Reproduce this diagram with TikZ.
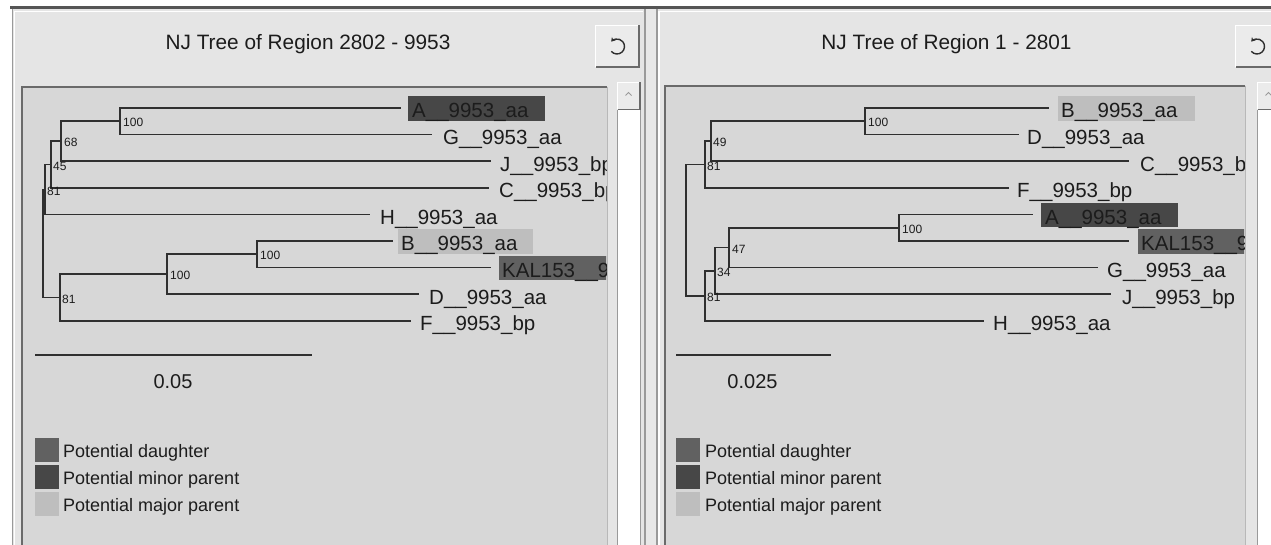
\documentclass[tikz,border=0pt]{standalone}
\usepackage{fontspec}
\setmainfont{Liberation Sans}
\usetikzlibrary{arrows.meta}
\definecolor{panelbg}{HTML}{E5E5E5}
\definecolor{treebg}{HTML}{D7D7D7}
\definecolor{branch}{HTML}{2F2F2F}
\definecolor{daughter}{HTML}{616161}
\definecolor{minorp}{HTML}{474747}
\definecolor{majorp}{HTML}{BEBEBE}
\definecolor{edgedark}{HTML}{6A6A6A}
\definecolor{edgemid}{HTML}{9A9A9A}
\definecolor{txt}{HTML}{1C1C1C}
\definecolor{btnbg}{HTML}{EBEBEB}
\tikzset{
 branchline/.style={draw=branch, line width=1.7pt, line cap=rect},
 leaflabel/.style={anchor=base west, inner sep=0pt, text=txt, font=\fontsize{20.5}{24}\selectfont},
 supportlabel/.style={anchor=west, inner sep=0pt, text=txt, font=\fontsize{12}{14}\selectfont},
 titlelabel/.style={anchor=base, inner sep=0pt, text=txt, font=\fontsize{20.8}{25}\selectfont},
 scalelabel/.style={anchor=base, inner sep=0pt, text=txt, font=\fontsize{20}{24}\selectfont},
 legendlabel/.style={anchor=base west, inner sep=0pt, text=txt, font=\fontsize{18}{22}\selectfont},
 scalebar/.style={draw=branch, line width=2.2pt},
 refreshicon/.style={draw=branch, line width=1.4pt, -{Stealth[length=4pt,width=5pt]}},
}
\begin{document}
\begin{tikzpicture}[x=1pt,y=-1pt]
\useasboundingbox (0,0) rectangle (1271,545);
% ---------- background and panels
\fill[white] (0,0) rectangle (1271,545);
\fill[panelbg] (12,9) rectangle (645,545);
\fill[panelbg!90!white] (645,9) rectangle (657,545);
\fill[panelbg] (657,9) rectangle (1271,545);
\draw[edgemid, line width=1.5pt] (12.5,9) -- (12.5,545);
\draw[white, line width=1.5pt] (14.5,11) -- (14.5,545);
\draw[white, line width=1.2pt] (14,11.5) -- (643,11.5);
\draw[edgemid, line width=1.5pt] (645,9) -- (645,545);
\draw[edgemid, line width=1.5pt] (657,9) -- (657,545);
\draw[white, line width=1.5pt] (659,11) -- (659,545);
\draw[white, line width=1.2pt] (659,11.5) -- (1271,11.5);
\draw[edgedark!80!black, line width=3pt] (10,8) -- (1271,8);
% ---------- tree areas
\fill[treebg] (22,87) rectangle (607,545);
\draw[edgedark, line width=2.5pt] (22,545) -- (22,87) -- (607,87);
\draw[edgemid!70!white, line width=1pt] (607,87) -- (607,545);
\fill[treebg] (665,86) rectangle (1245,545);
\draw[edgedark, line width=2.5pt] (665,545) -- (665,86) -- (1245,86);
\draw[edgemid!70!white, line width=1pt] (1245,86) -- (1245,545);
% ---------- titles
\node[titlelabel] (titleL) at (308,50) {NJ Tree of Region 2802 - 9953};
\node[titlelabel] (titleR) at (946.5,50) {NJ Tree of Region 1 - 2801};
% ---------- buttons
\fill[btnbg] (595,25) rectangle (639,68);
\draw[white, line width=1.5pt] (595.5,67) -- (595.5,25.5) -- (638,25.5);
\draw[edgedark, line width=2pt] (596,67.5) -- (638.5,67.5) -- (638.5,25);
\draw[refreshicon] (617,46.5) ++(140:7.5) arc[start angle=140, end angle=-140, radius=7.5];
\fill[btnbg] (1235,25) rectangle (1279,68);
\draw[white, line width=1.5pt] (1235.5,67) -- (1235.5,25.5) -- (1278,25.5);
\draw[edgedark, line width=2pt] (1236,67.5) -- (1278.5,67.5);
\draw[refreshicon] (1257,46.5) ++(140:7.5) arc[start angle=140, end angle=-140, radius=7.5];
% ---------- scrollbars
\fill[white] (617,110) rectangle (640,545);
\draw[edgemid, line width=1pt] (617,110) -- (617,545) (640,110) -- (640,545);
\fill[btnbg] (617,82) rectangle (640,110);
\draw[white, line width=1.2pt] (617.5,109) -- (617.5,82.5) -- (639.5,82.5);
\draw[edgedark, line width=1.5pt] (618,109.5) -- (640,109.5) -- (640,82);
\draw[edgemid, line width=1pt] (625.5,95.5) -- (628.5,92.5) -- (631.5,95.5);
\fill[white] (1257,110) rectangle (1280,545);
\draw[edgemid, line width=1pt] (1257,110) -- (1257,545);
\fill[btnbg] (1257,82) rectangle (1280,110);
\draw[white, line width=1.2pt] (1257.5,109) -- (1257.5,82.5) -- (1271,82.5);
\draw[edgedark, line width=1.5pt] (1258,109.5) -- (1271,109.5);
\draw[edgemid, line width=1pt] (1265.5,95.5) -- (1268.5,92.5) -- (1271.5,95.5);
% ---------- left tree
\begin{scope}
\clip (23,88) rectangle (606,545);
\coordinate (Lroot) at (43,243.5);
\coordinate (L81a) at (45,189.5);
\coordinate (L45) at (51,164.5);
\coordinate (L68) at (61,141.25);
\coordinate (L100a) at (120,121.3);
\coordinate (L81b) at (60,297.5);
\coordinate (L100b) at (167,274.2);
\coordinate (L100c) at (257,254.3);
\coordinate (LA) at (400,108);
\coordinate (LG) at (431,134.6);
\coordinate (LJ) at (490,161.2);
\coordinate (LC) at (488,187.8);
\coordinate (LH) at (369,214.4);
\coordinate (LB) at (392,241);
\coordinate (LK) at (490,267.6);
\coordinate (LD) at (418,294.2);
\coordinate (LF) at (410,320.8);
\fill[minorp] (408,96.5) rectangle (545,121);
\fill[majorp] (398,229.5) rectangle (533,254);
\fill[daughter] (499,256) rectangle (610,280.5);
\draw[branchline] (L100a) |- (LA) (L100a) |- (LG)
  (L68) |- (L100a) (L68) |- (LJ)
  (L45) |- (L68) (L45) |- (LC)
  (L81a) |- (L45) (L81a) |- (LH)
  (Lroot) |- (L81a) (Lroot) |- (L81b)
  (L81b) |- (L100b) (L81b) |- (LF)
  (L100b) |- (L100c) (L100b) |- (LD)
  (L100c) |- (LB) (L100c) |- (LK);
\node[leaflabel] (lA) at (412,118) {A\_\_9953\_aa};
\node[leaflabel] (lG) at (443,144.6) {G\_\_9953\_aa};
\node[leaflabel] (lJ) at (500,171.2) {J\_\_9953\_bp};
\node[leaflabel] (lC) at (499,197.8) {C\_\_9953\_bp};
\node[leaflabel] (lH) at (380,224.4) {H\_\_9953\_aa};
\node[leaflabel] (lB) at (401,251) {B\_\_9953\_aa};
\node[leaflabel] (lK) at (502,277.6) {KAL153\_\_9953};
\node[leaflabel] (lD) at (429,304.2) {D\_\_9953\_aa};
\node[leaflabel] (lF) at (420,330.8) {F\_\_9953\_bp};
\node[supportlabel] (sL100a) at ([xshift=3pt,yshift=-1.5pt]L100a) {100};
\node[supportlabel] (sL68) at ([xshift=3pt,yshift=-1.5pt]L68) {68};
\node[supportlabel] (sL45) at ([xshift=2pt,yshift=-1.5pt]L45) {45};
\node[supportlabel] (sL81a) at ([xshift=2pt,yshift=-1.5pt]L81a) {81};
\node[supportlabel] (sL100c) at ([xshift=3pt,yshift=-1.5pt]L100c) {100};
\node[supportlabel] (sL100b) at ([xshift=3pt,yshift=-1.5pt]L100b) {100};
\node[supportlabel] (sL81b) at ([xshift=2pt,yshift=-1.5pt]L81b) {81};
\end{scope}
% ---------- right tree
\begin{scope}
\clip (666,87) rectangle (1244,545);
\coordinate (Rroot) at (686,230.2);
\coordinate (R81a) at (705,164.5);
\coordinate (R49) at (711,141.25);
\coordinate (R100a) at (865,121.3);
\coordinate (R81b) at (705,295.9);
\coordinate (R34) at (715,270.9);
\coordinate (R47) at (729,247.65);
\coordinate (R100b) at (899,227.7);
\coordinate (RB) at (1048,108);
\coordinate (RD) at (1018,134.6);
\coordinate (RC) at (1128,161.2);
\coordinate (RF) at (1008,187.8);
\coordinate (RA) at (1032,214.4);
\coordinate (RK) at (1128,241);
\coordinate (RG) at (1097,267.6);
\coordinate (RJ) at (1110,294.2);
\coordinate (RH) at (983,320.8);
\fill[majorp] (1058,96.5) rectangle (1195,121);
\fill[minorp] (1041,203) rectangle (1178,227.5);
\fill[daughter] (1138,229.5) rectangle (1250,254);
\draw[branchline] (R100a) |- (RB) (R100a) |- (RD)
  (R49) |- (R100a) (R49) |- (RC)
  (R81a) |- (R49) (R81a) |- (RF)
  (Rroot) |- (R81a) (Rroot) |- (R81b)
  (R81b) |- (R34) (R81b) |- (RH)
  (R34) |- (R47) (R34) |- (RJ)
  (R47) |- (R100b) (R47) |- (RG)
  (R100b) |- (RA) (R100b) |- (RK);
\node[leaflabel] (rB) at (1061,118) {B\_\_9953\_aa};
\node[leaflabel] (rD) at (1027,144.6) {D\_\_9953\_aa};
\node[leaflabel] (rC) at (1140,171.2) {C\_\_9953\_bp};
\node[leaflabel] (rF) at (1017,197.8) {F\_\_9953\_bp};
\node[leaflabel] (rA) at (1045,224.4) {A\_\_9953\_aa};
\node[leaflabel] (rK) at (1141,251) {KAL153\_\_9953};
\node[leaflabel] (rG) at (1107,277.6) {G\_\_9953\_aa};
\node[leaflabel] (rJ) at (1122,304.2) {J\_\_9953\_bp};
\node[leaflabel] (rH) at (993,330.8) {H\_\_9953\_aa};
\node[supportlabel] (sR100a) at ([xshift=3pt,yshift=-1.5pt]R100a) {100};
\node[supportlabel] (sR49) at ([xshift=2pt,yshift=-1.5pt]R49) {49};
\node[supportlabel] (sR81a) at ([xshift=2pt,yshift=-1.5pt]R81a) {81};
\node[supportlabel] (sR100b) at ([xshift=3pt,yshift=-1.5pt]R100b) {100};
\node[supportlabel] (sR47) at ([xshift=3pt,yshift=-1.5pt]R47) {47};
\node[supportlabel] (sR34) at ([xshift=2pt,yshift=-1.5pt]R34) {34};
\node[supportlabel] (sR81b) at ([xshift=2pt,yshift=-1.5pt]R81b) {81};
\end{scope}
% ---------- scale bars
\coordinate (sbL1) at (35,355);
\coordinate (sbL2) at (312,355);
\draw[scalebar] (sbL1) -- (sbL2);
\node[scalelabel] (scL) at (173,388) {0.05};
\coordinate (sbR1) at (676,355);
\coordinate (sbR2) at (831,355);
\draw[scalebar] (sbR1) -- (sbR2);
\node[scalelabel] (scR) at (752.5,388) {0.025};
% ---------- legends
\fill[daughter] (35,438) rectangle (59,462);
\fill[minorp] (35,465) rectangle (59,489);
\fill[majorp] (35,492) rectangle (59,516);
\node[legendlabel] (lgL1) at (63,457) {Potential daughter};
\node[legendlabel] (lgL2) at (63,484) {Potential minor parent};
\node[legendlabel] (lgL3) at (63,511) {Potential major parent};
\fill[daughter] (676,438) rectangle (700,462);
\fill[minorp] (676,465) rectangle (700,489);
\fill[majorp] (676,492) rectangle (700,516);
\node[legendlabel] (lgR1) at (705,457) {Potential daughter};
\node[legendlabel] (lgR2) at (705,484) {Potential minor parent};
\node[legendlabel] (lgR3) at (705,511) {Potential major parent};
\end{tikzpicture}
\end{document}
